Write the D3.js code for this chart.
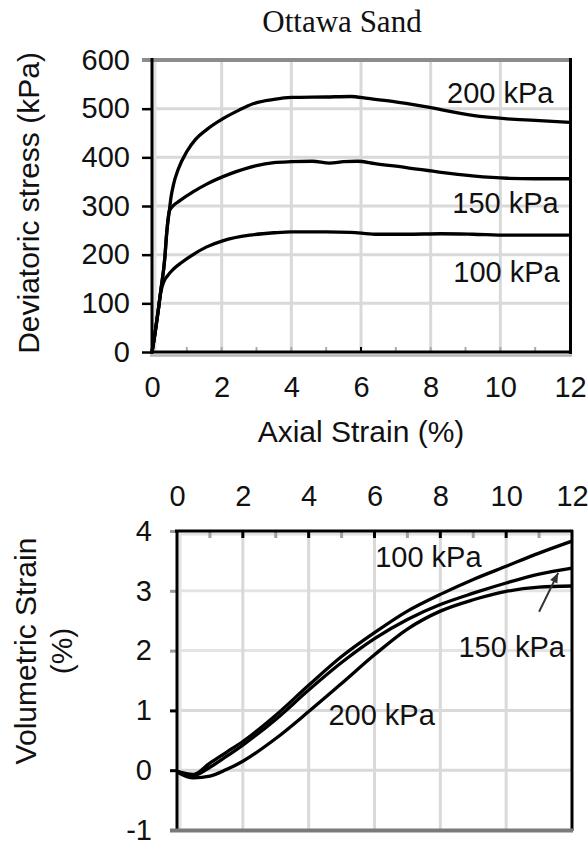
<!DOCTYPE html>
<html>
<head>
<meta charset="utf-8">
<script src="https://cdn.jsdelivr.net/npm/d3@7"></script>
<style>
  html, body { margin: 0; padding: 0; background: #fff; }
  svg { display: block; }
  text { font-family: "Liberation Sans", Arial, sans-serif; fill: #111; }
</style>
</head>
<body>
<div id="chart"></div>
<script>
// Axis ticks
const strainTicks = [0, 2, 4, 6, 8, 10, 12];
const stressTicks = [0, 100, 200, 300, 400, 500, 600];
const volTicks = [-1, 0, 1, 2, 3, 4];

// Deviatoric stress (kPa) vs axial strain (%), by confining pressure
const dev100 = [[0,0],[0.09,40],[0.18,86],[0.25,122],[0.33,143],[0.45,157],[0.61,170],[0.85,184],[1.09,196],[1.57,216],[2.05,229],[2.8,240],[3.5,245],[4.0,247],[5.0,247],[5.7,246],[6.4,242],[7.3,242],[8.3,243],[9.2,242],[10.2,240],[11,240],[12,240]];
const dev150 = [[0,0],[0.09,40],[0.18,86],[0.25,125],[0.37,195],[0.42,243],[0.5,290],[0.6,300],[0.8,311],[1.2,330],[1.57,345],[2.24,366],[3.0,383],[3.5,389],[4.0,391],[4.6,392],[5.1,388],[5.5,391],[5.9,392],[6.4,387],[7.3,379],[8.3,369],[9.2,362],[10.2,357],[11,356],[12,356]];
const dev200 = [[0,0],[0.09,40],[0.18,86],[0.25,125],[0.37,195],[0.42,243],[0.5,292],[0.55,320],[0.62,345],[0.75,375],[1.0,412],[1.25,437],[1.57,457],[2.05,480],[2.5,497],[2.9,510],[3.5,519],[4.0,523],[5.0,524],[5.7,525],[6.2,521],[6.9,515],[8.0,502],[9.2,486],[10.2,479],[11,476],[12,472]];

// Volumetric strain (%) vs axial strain (%)
const vol100 = [[0,-0.02],[0.5,-0.07],[1,0.12],[1.5,0.3],[2,0.48],[3,0.92],[4,1.42],[5,1.9],[6,2.3],[7,2.66],[8,2.94],[9,3.19],[10,3.41],[11,3.63],[12,3.83]];
const vol150 = [[0,-0.02],[0.5,-0.09],[1,0.05],[1.5,0.23],[2,0.42],[3,0.85],[4,1.34],[5,1.8],[6,2.2],[7,2.52],[8,2.77],[9,2.96],[10,3.13],[11,3.28],[12,3.38]];
const vol200 = [[0,-0.03],[0.5,-0.13],[1,-0.1],[1.5,0.01],[2,0.15],[3,0.53],[4,0.98],[5,1.45],[6,1.93],[7,2.36],[8,2.66],[9,2.85],[10,2.99],[11,3.06],[12,3.08]];

const W = 588, H = 845;
const FS = 29;
const svg = d3.select("#chart").append("svg").attr("width", W).attr("height", H);

const gridColor = "#d9d9d9";
const curveGen = (xs, ys) => d3.line().x(d => xs(d[0])).y(d => ys(d[1])).curve(d3.curveMonotoneX);
const addLabel = (g, x, y, t) => g.append("text").attr("x", x).attr("y", y).style("font-size", FS + "px").text(t);
const seg = (g, x1, y1, x2, y2, color, w) => g.append("line")
  .attr("x1", x1).attr("y1", y1).attr("x2", x2).attr("y2", y2)
  .attr("stroke", color).attr("stroke-width", w);

// ---------- Upper panel: deviatoric stress ----------
const xTop = d3.scaleLinear().domain([0, 12]).range([152, 570]);
const yTop = d3.scaleLinear().domain([0, 600]).range([352, 60]);
const upper = svg.append("g");

upper.append("text").attr("x", 342).attr("y", 32).attr("text-anchor", "middle")
  .style("font-family", "'Liberation Serif', 'Times New Roman', serif")
  .style("font-size", "31px").text("Ottawa Sand");

// grid
[100, 200, 300, 400, 500].forEach(v => seg(upper, xTop(0), yTop(v), xTop(12), yTop(v), gridColor, 3));
[2, 4, 6, 8, 10].forEach(v => seg(upper, xTop(v), yTop(600), xTop(v), yTop(0), gridColor, 3));
seg(upper, xTop(0) + 3, yTop(600), xTop(0) + 3, yTop(0), "#e2e2e2", 3);

// minor ticks along the strain axis
d3.range(1, 12).forEach(v => seg(upper, xTop(v), yTop(0) - 5, xTop(v), yTop(0), v === 6 ? "#000" : "#aaa", 2));

// y axis
const yAxTop = upper.append("g").attr("transform", `translate(${xTop(0)},0)`)
  .call(d3.axisLeft(yTop).tickValues(stressTicks).tickSize(10).tickSizeOuter(0).tickPadding(12));
yAxTop.select(".domain").remove();
yAxTop.selectAll(".tick line").attr("stroke", d => d === 600 ? "#999" : "#000").attr("stroke-width", 2.5);
yAxTop.selectAll(".tick text").style("font-size", FS + "px").attr("fill", "#111");

// x axis labels
const xAxTop = upper.append("g").attr("transform", `translate(0,${yTop(0)})`)
  .call(d3.axisBottom(xTop).tickValues(strainTicks).tickSize(0).tickPadding(24));
xAxTop.select(".domain").remove();
xAxTop.selectAll(".tick text").style("font-size", FS + "px").attr("fill", "#111");

// frame
seg(upper, 142, yTop(600), 572, yTop(600), "#8c8c8c", 4);
seg(upper, 150, yTop(0) + 3.5, 572, yTop(0) + 3.5, "#b4b4b4", 2.5);
seg(upper, 150, yTop(0), 572, yTop(0), "#000", 3);
seg(upper, xTop(0), 58, xTop(0), 354, "#000", 3);
seg(upper, xTop(12) + 0.5, 58, xTop(12) + 0.5, 354, "#000", 3);

// curves
[dev100, dev150, dev200].forEach(s => {
  upper.append("path").attr("d", curveGen(xTop, yTop)(s))
    .attr("fill", "none").attr("stroke", "#000").attr("stroke-width", 3.3)
    .attr("stroke-linejoin", "round");
});

addLabel(upper, xTop(8.47), yTop(512), "200 kPa");
addLabel(upper, xTop(8.62), yTop(285), "150 kPa");
addLabel(upper, xTop(8.65), yTop(144), "100 kPa");

// axis titles
upper.append("text").attr("x", 361).attr("y", 442).attr("text-anchor", "middle")
  .style("font-size", "30px").text("Axial Strain (%)");
upper.append("text").attr("transform", "translate(39,203) rotate(-90)").attr("text-anchor", "middle")
  .style("font-size", "30px").text("Deviatoric stress (kPa)");

// ---------- Lower panel: volumetric strain ----------
const xBot = d3.scaleLinear().domain([0, 12]).range([177, 572]);
const yBot = d3.scaleLinear().domain([-1, 4]).range([830, 531]);
const lower = svg.append("g");

[0, 1, 2, 3].forEach(v => seg(lower, xBot(0), yBot(v), xBot(12), yBot(v), v >= 2 ? "#e4e4e4" : gridColor, 3));
[2, 4, 6, 8, 10].forEach(v => seg(lower, xBot(v), yBot(4), xBot(v), yBot(-1), gridColor, 3));
seg(lower, xBot(0) + 3, yBot(4), xBot(0) + 3, yBot(-1), "#e2e2e2", 3);
seg(lower, xBot(0), yBot(4) + 3, xBot(12), yBot(4) + 3, "#e2e2e2", 3);

// ticks hanging from the top strain axis
d3.range(1, 12).forEach(v => seg(lower, xBot(v), yBot(4), xBot(v), yBot(4) + 7, v % 2 === 0 ? "#000" : "#a0a0a0", 3));

const xAxBot = lower.append("g").attr("transform", `translate(0,${yBot(4)})`)
  .call(d3.axisTop(xBot).tickValues(strainTicks).tickSize(0).tickPadding(25));
xAxBot.select(".domain").remove();
xAxBot.selectAll(".tick text").style("font-size", FS + "px").attr("fill", "#111");

const yAxBot = lower.append("g").attr("transform", `translate(${xBot(0)},0)`)
  .call(d3.axisLeft(yBot).tickValues(volTicks).tickFormat(d => String(d))
    .tickSize(7).tickSizeOuter(0).tickPadding(18));
yAxBot.select(".domain").remove();
yAxBot.selectAll(".tick line").attr("stroke", d => (d === 0 || d === 1) ? "#000" : "#999").attr("stroke-width", 3);
yAxBot.selectAll(".tick text").style("font-size", FS + "px").attr("fill", "#111");

// frame
seg(lower, 175, yBot(4), 573, yBot(4), "#000", 3);
seg(lower, xBot(0), 530, xBot(0), 831, "#000", 3);
seg(lower, xBot(12), 530, xBot(12), 831, "#000", 3);
seg(lower, 170, yBot(-1) + 0.5, 573, yBot(-1) + 0.5, "#7a7a7a", 4);

[vol100, vol150, vol200].forEach(s => {
  lower.append("path").attr("d", curveGen(xBot, yBot)(s))
    .attr("fill", "none").attr("stroke", "#000").attr("stroke-width", 3.3)
    .attr("stroke-linejoin", "round");
});

addLabel(lower, xBot(6.02), yBot(3.4), "100 kPa");
addLabel(lower, xBot(8.55), yBot(1.9), "150 kPa");
addLabel(lower, xBot(4.6), yBot(0.75), "200 kPa");

// pointer from the 150 kPa label to its curve
const ax1 = xBot(11.0), ay1 = yBot(2.65), ax2 = xBot(11.58), ay2 = yBot(3.3);
seg(lower, ax1, ay1, ax2, ay2, "#333", 2);
const ang = Math.atan2(ay2 - ay1, ax2 - ax1);
const hl = 10, hw = 4;
lower.append("path").attr("fill", "#333").attr("d", `M${ax2},${ay2}` +
  `L${ax2 - hl * Math.cos(ang) + hw * Math.sin(ang)},${ay2 - hl * Math.sin(ang) - hw * Math.cos(ang)}` +
  `L${ax2 - hl * Math.cos(ang) - hw * Math.sin(ang)},${ay2 - hl * Math.sin(ang) + hw * Math.cos(ang)}Z`);

const vt = lower.append("text").attr("transform", "translate(0,651) rotate(-90)").attr("text-anchor", "middle")
  .style("font-size", "30px");
vt.append("tspan").attr("x", 0).attr("y", 36).text("Volumetric Strain");
vt.append("tspan").attr("x", 0).attr("y", 72).text("(%)");
</script>
</body>
</html>
